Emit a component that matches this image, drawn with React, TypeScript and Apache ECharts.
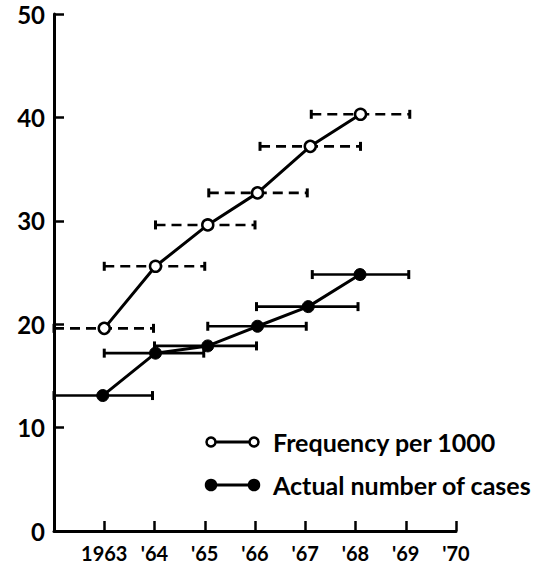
import React, { useEffect, useRef } from "react";
import * as echarts from "echarts";

// x positions (years) of the plotted points
const freqYears = [1963, 1964.02, 1965.06, 1966.05, 1967.1, 1968.1];
const freqValues = [19.6, 25.6, 29.6, 32.7, 37.2, 40.3];
const freqLow = [1962, 1963, 1964.02, 1965.08, 1966.1, 1967.12];
const freqHigh = [1963.98, 1965, 1966, 1967.04, 1968.1, 1969.08];

const caseYears = [1962.97, 1964.02, 1965.06, 1966.05, 1967.06, 1968.09];
const caseValues = [13.1, 17.2, 17.9, 19.8, 21.7, 24.8];
const caseLow = [1962, 1963, 1964, 1965.06, 1966.03, 1967.14];
const caseHigh = [1963.96, 1964.98, 1966.03, 1967.02, 1968.05, 1969.06];

const xTickValues = [1962, 1963, 1964, 1965, 1966, 1967, 1968, 1969, 1970];
const xTickLabels = ["", "1963", "'64", "'65", "'66", "'67", "'68", "'69", "'70"];
const yTicks = [0, 10, 20, 30, 40, 50];

const seriesNames = ["Frequency per 1000", "Actual number of cases"];

const FONT = "Lato";

function errorBar(dashed: boolean) {
  return (params: any, api: any) => {
    const y = api.value(1);
    const p1 = api.coord([api.value(2), y]);
    const p2 = api.coord([api.value(3), y]);
    const cap = 4.5;
    return {
      type: "group",
      children: [
        {
          type: "line",
          shape: { x1: p1[0], y1: p1[1], x2: p2[0], y2: p2[1] },
          style: { stroke: "#000", lineWidth: 2.6, lineDash: dashed ? [10, 6] : null },
        },
        {
          type: "line",
          shape: { x1: p1[0], y1: p1[1] - cap, x2: p1[0], y2: p1[1] + cap },
          style: { stroke: "#000", lineWidth: 3 },
        },
        {
          type: "line",
          shape: { x1: p2[0], y1: p2[1] - cap, x2: p2[0], y2: p2[1] + cap },
          style: { stroke: "#000", lineWidth: 3 },
        },
      ],
    };
  };
}

export default function App() {
  const ref = useRef<HTMLDivElement>(null);
  useEffect(() => {
    if (!ref.current) return;
    const chart = echarts.init(ref.current, null, { renderer: "svg" });
    const freqData = freqYears.map((x, i) => [x, freqValues[i]]);
    const caseData = caseYears.map((x, i) => [x, caseValues[i]]);
    const freqErr = freqYears.map((x, i) => [x, freqValues[i], freqLow[i], freqHigh[i]]);
    const caseErr = caseYears.map((x, i) => [x, caseValues[i], caseLow[i], caseHigh[i]]);

    const legendY = [442, 485];
    const legendGraphics: any[] = [];
    seriesNames.forEach((name, i) => {
      const filled = i === 1;
      legendGraphics.push(
        {
          type: "line",
          shape: { x1: 211, y1: legendY[i], x2: 254, y2: legendY[i] },
          style: { stroke: "#000", lineWidth: 3 },
        },
        {
          type: "circle",
          shape: { cx: 211, cy: legendY[i], r: filled ? 5 : 4.5 },
          style: { fill: filled ? "#000" : "#fff", stroke: "#000", lineWidth: 2.5 },
        },
        {
          type: "circle",
          shape: { cx: 254, cy: legendY[i], r: filled ? 5 : 4.5 },
          style: { fill: filled ? "#000" : "#fff", stroke: "#000", lineWidth: 2.5 },
        },
        {
          type: "text",
          x: 273,
          y: legendY[i],
          style: {
            text: name,
            fill: "#000",
            font: `bold 25px ${FONT}`,
            verticalAlign: "middle",
            align: "left",
          },
        }
      );
    });

    chart.setOption({
      animation: false,
      backgroundColor: "#fff",
      grid: { left: 54, right: 96, top: 14, bottom: 35, containLabel: false },
      xAxis: {
        type: "value",
        min: 1962,
        max: 1970,
        interval: 1,
        splitLine: { show: false },
        axisLine: { show: true, lineStyle: { color: "#000", width: 3 } },
        axisTick: { show: true, inside: true, length: 10, lineStyle: { color: "#000", width: 2.5 } },
        axisLabel: {
          color: "#000",
          fontFamily: FONT,
          fontWeight: "bold",
          fontSize: 20,
          margin: 12,
          formatter: (v: number) => {
            const idx = xTickValues.indexOf(Math.round(v));
            return idx >= 0 ? xTickLabels[idx] : "";
          },
        },
      },
      yAxis: {
        type: "value",
        min: yTicks[0],
        max: yTicks[yTicks.length - 1],
        interval: 10,
        splitLine: { show: false },
        axisLine: { show: true, lineStyle: { color: "#000", width: 3 } },
        axisTick: { show: true, inside: true, length: 10, lineStyle: { color: "#000", width: 2.5 } },
        axisLabel: {
          color: "#000",
          fontFamily: FONT,
          fontWeight: "bold",
          fontSize: 24,
          margin: 9,
        },
      },
      graphic: legendGraphics,
      series: [
        {
          type: "custom",
          name: seriesNames[0] + " range",
          renderItem: errorBar(true),
          data: freqErr,
          encode: { x: [0, 2, 3], y: 1 },
          z: 1,
          silent: true,
        },
        {
          type: "custom",
          name: seriesNames[1] + " range",
          renderItem: errorBar(false),
          data: caseErr,
          encode: { x: [0, 2, 3], y: 1 },
          z: 1,
          silent: true,
        },
        {
          type: "line",
          name: seriesNames[0],
          data: freqData,
          symbol: "circle",
          symbolSize: 11,
          lineStyle: { color: "#000", width: 3 },
          itemStyle: { color: "#fff", borderColor: "#000", borderWidth: 2.5 },
          z: 3,
        },
        {
          type: "line",
          name: seriesNames[1],
          data: caseData,
          symbol: "circle",
          symbolSize: 12,
          lineStyle: { color: "#000", width: 3 },
          itemStyle: { color: "#000", borderColor: "#000", borderWidth: 1 },
          z: 3,
        },
      ],
    });
    return () => chart.dispose();
  }, []);
  return (
    <div
      ref={ref}
      style={{ position: "absolute", left: 0, top: 0, width: 552, height: 566 }}
    />
  );
}
